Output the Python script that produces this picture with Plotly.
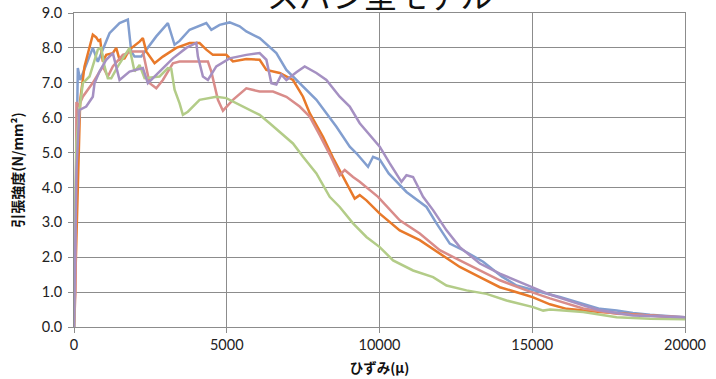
import plotly.graph_objects as go

title_text = "スパン型モデル"
x_title = "ひずみ(μ)"
y_title = "引張強度(N/mm²)"
x_ticks = [0, 5000, 10000, 15000, 20000]
y_ticks = [0, 1, 2, 3, 4, 5, 6, 7, 8, 9]

blue_x = [0, 60, 125, 203, 400, 616, 780, 1163, 1491, 1762, 1874, 1982, 2201, 2693, 3073, 3292, 3456, 3784, 4331, 4495, 4767, 5094, 5422, 5641, 6077, 6624, 6952, 7387, 7935, 8590, 9026, 9245, 9625, 9789, 10008, 10300, 10883, 11538, 11866, 12301, 12737, 13392, 14000, 14486, 15030, 15577, 15905, 16668, 17215, 17762, 18296, 18854, 20000]
blue_y = [0, 3.0, 7.42, 7.08, 7.5, 8.0, 7.6, 8.42, 8.71, 8.81, 7.9, 7.75, 7.75, 8.33, 8.71, 8.09, 8.2, 8.52, 8.71, 8.52, 8.66, 8.73, 8.62, 8.47, 8.28, 7.85, 7.37, 6.99, 6.51, 5.74, 5.17, 4.98, 4.59, 4.88, 4.8, 4.40, 3.87, 3.44, 2.97, 2.39, 2.20, 1.87, 1.45, 1.19, 1.05, 0.93, 0.86, 0.67, 0.52, 0.47, 0.40, 0.35, 0.28]

orange_x = [0, 100, 203, 344, 616, 727, 800, 858, 943, 1055, 1271, 1382, 1491, 1654, 1818, 2146, 2254, 2365, 2637, 2909, 3348, 3784, 4111, 4331, 4547, 4986, 5202, 5641, 6077, 6297, 6732, 7168, 7496, 7715, 8151, 8478, 8917, 9189, 9353, 9572, 10008, 10663, 11318, 11974, 12629, 13284, 13939, 14814, 15030, 15577, 16124, 17215, 18854, 20000]
orange_y = [0, 3.5, 6.5, 7.47, 8.38, 8.3, 8.2, 8.23, 7.61, 7.8, 7.85, 8.0, 7.66, 7.7, 7.95, 8.18, 8.28, 7.9, 7.56, 7.75, 8.0, 8.14, 8.14, 7.95, 7.80, 7.8, 7.61, 7.68, 7.66, 7.37, 7.28, 7.08, 6.6, 6.13, 5.45, 4.85, 4.15, 3.68, 3.78, 3.63, 3.25, 2.77, 2.49, 2.10, 1.72, 1.43, 1.14, 0.91, 0.85, 0.65, 0.52, 0.43, 0.33, 0.26]

red_x = [0, 30, 50, 60, 80, 150, 288, 616, 943, 1107, 1271, 1599, 1926, 2254, 2365, 2473, 2693, 2909, 3237, 3456, 3892, 4383, 4495, 4603, 4711, 4875, 5202, 5641, 6077, 6513, 6952, 7387, 7715, 8043, 8370, 8698, 8862, 9134, 9353, 9952, 10663, 11318, 11974, 12629, 13284, 13939, 14814, 15577, 16668, 17762, 20000]
red_y = [0, 0.5, 1.05, 3.0, 6.45, 6.32, 6.6, 7.0, 7.47, 7.18, 7.47, 7.8, 7.9, 7.9, 7.47, 6.99, 6.84, 7.08, 7.56, 7.61, 7.61, 7.61, 7.32, 6.89, 6.51, 6.2, 6.51, 6.84, 6.75, 6.75, 6.6, 6.32, 6.03, 5.5, 4.95, 4.35, 4.5, 4.30, 4.16, 3.73, 3.06, 2.68, 2.20, 1.91, 1.62, 1.34, 1.05, 0.82, 0.53, 0.38, 0.28]

green_x = [0, 30, 80, 180, 288, 508, 780, 891, 999, 1107, 1219, 1435, 1710, 1818, 1982, 2146, 2310, 2801, 3073, 3184, 3292, 3456, 3564, 3728, 4111, 4658, 4986, 5530, 6077, 6405, 6732, 7168, 7496, 7935, 8370, 8698, 9134, 9572, 10008, 10444, 11099, 11754, 12193, 12848, 13504, 14159, 15030, 15358, 15577, 16668, 17762, 18854, 20000]
green_y = [0, 3.0, 5.27, 6.22, 6.99, 7.18, 7.95, 8.0, 7.47, 7.13, 7.13, 7.47, 7.85, 8.0, 7.32, 7.51, 7.13, 7.18, 7.42, 7.4, 6.8, 6.41, 6.08, 6.17, 6.51, 6.60, 6.56, 6.32, 6.08, 5.84, 5.60, 5.26, 4.88, 4.40, 3.73, 3.44, 2.97, 2.58, 2.29, 1.91, 1.62, 1.43, 1.19, 1.05, 0.95, 0.76, 0.57, 0.47, 0.50, 0.43, 0.28, 0.24, 0.22]

purple_x = [0, 40, 80, 180, 400, 616, 672, 835, 1055, 1271, 1382, 1491, 1818, 2038, 2254, 2418, 2801, 3237, 3676, 4003, 4056, 4220, 4383, 4658, 5094, 5641, 6077, 6297, 6460, 6624, 6788, 6952, 7279, 7551, 7935, 8262, 8698, 9026, 9353, 9789, 10008, 10336, 10719, 10883, 11099, 11427, 11754, 12193, 12629, 13284, 13939, 14814, 15577, 16668, 17215, 18296, 20000]
purple_y = [0, 2.0, 4.5, 6.22, 6.32, 6.6, 6.99, 7.32, 7.66, 7.85, 7.47, 7.08, 7.32, 7.37, 7.42, 6.99, 7.32, 7.70, 8.0, 8.14, 7.75, 7.18, 7.08, 7.47, 7.70, 7.80, 7.85, 7.66, 6.99, 6.95, 7.23, 7.08, 7.30, 7.47, 7.28, 7.08, 6.60, 6.32, 5.84, 5.40, 5.17, 4.69, 4.16, 4.35, 4.30, 3.73, 3.35, 2.77, 2.29, 1.82, 1.53, 1.21, 0.93, 0.62, 0.48, 0.33, 0.28]

series = [
    (blue_x, blue_y, "#829ECF"),
    (orange_x, orange_y, "#E8792A"),
    (red_x, red_y, "#D98C8A"),
    (green_x, green_y, "#B3CC88"),
    (purple_x, purple_y, "#A590C2"),
]

fig = go.Figure()
for xs, ys, col in series:
    fig.add_trace(go.Scatter(x=xs, y=ys, mode="lines",
                             line=dict(color=col, width=2.5),
                             showlegend=False, hoverinfo="skip"))

grid = "#8C8C8C"
fig.update_layout(
    width=716, height=379,
    margin=dict(l=74, r=31, t=13, b=52),
    paper_bgcolor="white", plot_bgcolor="white",
    font=dict(family="Lato, 'Noto Sans CJK JP'", size=14.5, color="#222222"),
    showlegend=False,
)
fig.update_xaxes(
    range=[0, 20000], tickvals=x_ticks, tickformat="d",
    showgrid=True, gridcolor=grid, gridwidth=1,
    showline=True, linecolor=grid, linewidth=1, mirror=True,
    ticks="outside", ticklen=5, tickcolor=grid, zeroline=False,
    automargin=False,
    title=dict(text=x_title, font=dict(family="Noto Sans CJK JP", size=13.5, color="#111111", weight="bold"), standoff=11),
)
fig.update_yaxes(
    range=[0, 9], tickvals=y_ticks, tickformat=".1f",
    showgrid=True, gridcolor=grid, gridwidth=1,
    showline=True, linecolor=grid, linewidth=1, mirror=True,
    ticks="outside", ticklen=5, tickcolor=grid, zeroline=False,
    automargin=False, ticklabelstandoff=3,
    title=dict(text=y_title, font=dict(family="Noto Sans CJK JP", size=14, color="#111111", weight="bold"), standoff=14),
)
fig.add_annotation(text=title_text, xref="paper", yref="paper", x=0.5, y=1.06,
                   xanchor="center", yanchor="middle", showarrow=False,
                   font=dict(family="Noto Sans CJK JP", size=32, color="#111111"))

fig.write_html("out.html", config={"displayModeBar": False},
               post_script="document.body.style.margin='0';document.body.style.overflow='hidden';")
